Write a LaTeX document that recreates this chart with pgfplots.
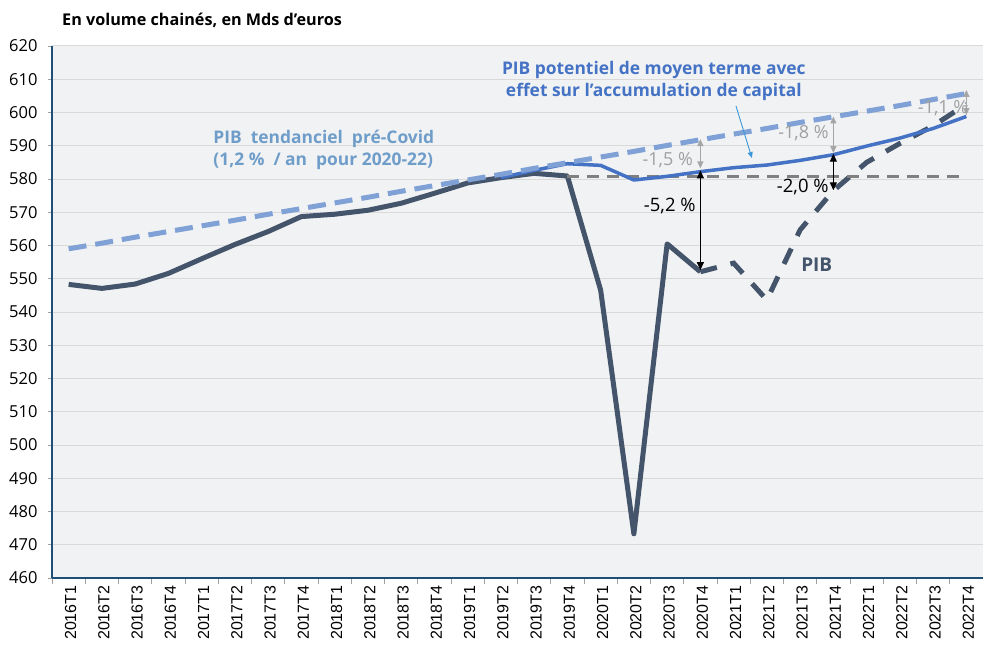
\documentclass[border=0pt]{standalone}
\usepackage{pgfplots}
\pgfplotsset{compat=1.18}
\usepackage{fontspec}
\setmainfont{Open Sans}
\newfontfamily\lib{Liberation Sans}
\usetikzlibrary{arrows.meta}
\definecolor{bggray}{HTML}{F1F2F4}
\definecolor{gridgray}{HTML}{D9D9D9}
\definecolor{axisblue}{HTML}{1F4E79}
\definecolor{pibdark}{HTML}{44546A}
\definecolor{potblue}{HTML}{4472C4}
\definecolor{trendblue}{HTML}{7FA1D6}
\definecolor{trendtext}{HTML}{6F9DC9}
\definecolor{arrowblue}{HTML}{3A98DA}
\definecolor{annogray}{HTML}{A6A6A6}
\definecolor{tickgray}{HTML}{A0A0A0}

\pgfplotstableread{
x y
0 548.3
1 547.1
2 548.4
3 551.6
4 556.0
5 560.3
6 564.2
7 568.7
8 569.4
9 570.6
10 572.7
11 575.7
12 578.8
13 580.4
14 581.7
15 580.9
16 546.6
17 473.3
18 560.5
19 552.1
}\pibobs

\pgfplotstableread{
x y
19 552.1
20 554.7
21 543.6
22 564.7
23 576.5
24 585.0
25 590.7
26 596.0
27 602.5
}\pibprev

\pgfplotstableread{
x y
13 580.4
14 582.6
15 584.6
16 584.1
17 579.7
18 580.8
19 582.2
20 583.4
21 584.2
22 585.6
23 587.3
24 589.9
25 592.3
26 595.2
27 598.8
}\potentiel

\pgfplotstableread{
x y
0 559.0
1 560.7
2 562.5
3 564.2
4 565.9
5 567.6
6 569.4
7 571.1
8 572.8
9 574.5
10 576.3
11 578.0
12 579.7
13 581.4
14 583.2
15 584.9
16 586.6
17 588.3
18 590.1
19 591.8
20 593.5
21 595.2
22 597.0
23 598.7
24 600.4
25 602.1
26 603.9
27 605.7
}\tendance

\pgfplotstableread{
x y
15 580.8
27 580.8
}\niveau

\begin{document}
\begin{tikzpicture}
\begin{axis}[
  scale only axis, width=931pt, height=532pt,
  xmin=-0.5, xmax=27.5, ymin=460, ymax=620,
  clip=false,
  axis x line*=bottom, axis y line*=left,
  axis line style={draw=axisblue, line width=1.3pt, -},
  axis background/.style={fill=bggray},
  ytick={460,470,...,620},
  ymajorgrids, major grid style={draw=gridgray, line width=1pt},
  tick align=outside,
  major tick length=4pt,
  minor tick length=6pt,
  ytick style={draw=tickgray, line width=0.8pt},
  xtick={0,...,27},
  xticklabels={2016T1,2016T2,2016T3,2016T4,2017T1,2017T2,2017T3,2017T4,2018T1,2018T2,2018T3,2018T4,2019T1,2019T2,2019T3,2019T4,2020T1,2020T2,2020T3,2020T4,2021T1,2021T2,2021T3,2021T4,2022T1,2022T2,2022T3,2022T4},
  major x tick style={draw=none},
  minor xtick={-0.5,0.5,...,27.5},
  minor x tick style={draw=tickgray, line width=0.8pt},
  xticklabel style={rotate=90, anchor=east, font=\lib\fontsize{16}{18}\selectfont, yshift=-2pt},
  yticklabel style={font=\fontsize{16.5}{18}\selectfont, xshift=-7pt},
  /pgf/number format/assume math mode=true,
  /pgf/number format/.cd, use comma, 1000 sep={},
]
\addplot[pibdark, line width=5pt, line join=round] table {\pibobs};
\addplot[pibdark, line width=5pt, dash pattern=on 17pt off 14pt] table {\pibprev};
\addplot[gray, line width=2.5pt, dash pattern=on 12pt off 8pt] table {\niveau};
\addplot[potblue, line width=3.5pt, line join=round] table {\potentiel};
\addplot[trendblue, line width=5pt, dash pattern=on 18pt off 9pt] table {\tendance};

% annotations
\node[text=potblue, font=\bfseries\fontsize{17.4}{22}\selectfont, align=center] at (axis cs:17.6,609.5) {PIB potentiel de moyen terme avec\\effet sur l'accumulation de capital};
\draw[arrowblue, line width=0.9pt, -{Triangle[length=6pt,width=5pt]}] (axis cs:20.07,602) -- (axis cs:20.55,586.3);
\node[text=trendtext, font=\bfseries\fontsize{17.4}{22}\selectfont, align=left, anchor=west] at (axis cs:4.25,588.7) {PIB\ \ tendanciel\ \ pré-Covid\\(1,2~\%\ \ /\ an\ \ pour 2020-22)};

\draw[annogray, line width=1.3pt, {Triangle[length=7pt,width=6pt]}-{Triangle[length=7pt,width=6pt]}] (axis cs:19,592.0) -- (axis cs:19,583.2);
\draw[black, line width=1.2pt, {Triangle[length=8pt,width=7pt]}-{Triangle[length=8pt,width=7pt]}] (axis cs:19,582.6) -- (axis cs:19,552.6);
\node[text=tickgray, font=\fontsize{18}{20}\selectfont] at (axis cs:18.02,585.7) {-1,5 \%};
\node[font=\fontsize{18.5}{20}\selectfont] at (axis cs:18.08,571.9) {-5,2 \%};

\draw[annogray, line width=1.3pt, {Triangle[length=7pt,width=6pt]}-{Triangle[length=7pt,width=6pt]}] (axis cs:23,598.8) -- (axis cs:23,587.8);
\draw[black, line width=1.2pt, {Triangle[length=8pt,width=7pt]}-{Triangle[length=8pt,width=7pt]}] (axis cs:23,587.6) -- (axis cs:23,576.6);
\node[text=tickgray, font=\fontsize{18}{20}\selectfont] at (axis cs:22.1,593.8) {-1,8 \%};
\node[font=\fontsize{18.5}{20}\selectfont] at (axis cs:22.08,577.7) {-2,0 \%};

\draw[annogray, line width=1.3pt, {Triangle[length=7pt,width=6pt]}-{Triangle[length=7pt,width=6pt]}] (axis cs:27,606.8) -- (axis cs:27,599.2);
\node[text=tickgray, font=\fontsize{18}{20}\selectfont] at (axis cs:26.3,601.4) {-1,1 \%};

\node[text=pibdark, font=\bfseries\fontsize{19}{22}\selectfont] at (axis cs:22.5,554.1) {PIB};
\end{axis}
\node[anchor=west, inner sep=0pt, font=\bfseries\fontsize{16.2}{18}\selectfont] at (10pt,558pt) {En volume chainés, en Mds d’euros};
\pgfresetboundingbox
\path[use as bounding box] (-52pt,-79pt) rectangle (931pt,578pt);
\end{tikzpicture}
\end{document}
